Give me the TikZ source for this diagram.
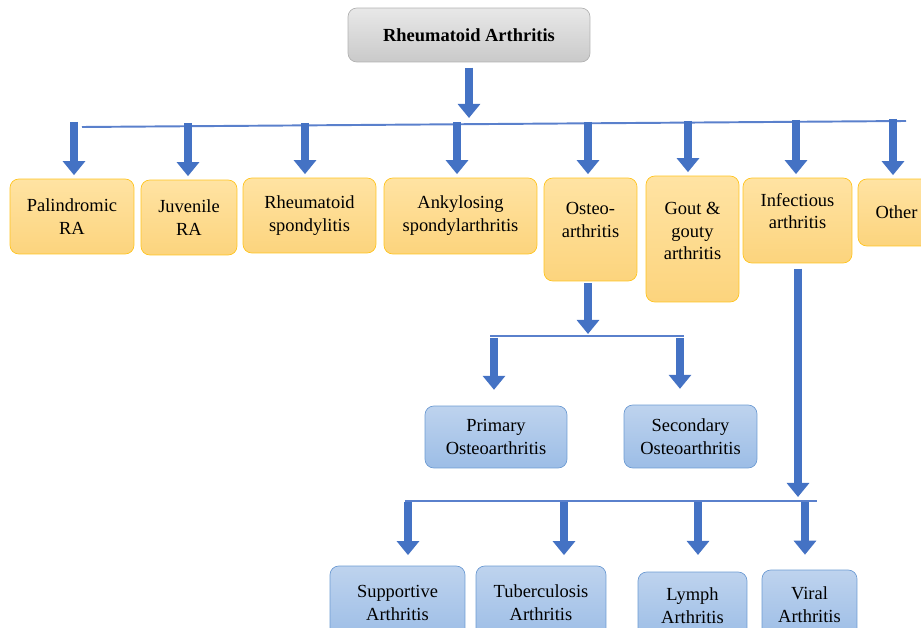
\documentclass[tikz,border=0pt]{standalone}
\usepackage{fontspec}
\setmainfont{Liberation Serif}
\usetikzlibrary{positioning, arrows.meta}

\definecolor{arrowblue}{HTML}{4472C4}
\definecolor{barblue}{HTML}{5A80CC}

\begin{document}
\begin{tikzpicture}[x=0.02cm, y=-0.02cm,
    % Root box style - gray shaded
    rootbox/.style={
        rectangle,
        rounded corners=5pt,
        draw=gray!60,
        top color=gray!18,
        bottom color=gray!42,
        font=\fontsize{10.5}{13}\selectfont\bfseries,
        align=center
    },
    % Main type box style - orange
    typebox/.style={
        rectangle,
        rounded corners=5pt,
        draw={rgb,255:red,255;green,196;blue,30},
        top color={rgb,255:red,255;green,227;blue,163},
        bottom color={rgb,255:red,252;green,212;blue,125},
        font=\fontsize{10.5}{13}\selectfont,
        align=center
    },
    % Sub type box style - blue
    subbox/.style={
        rectangle,
        rounded corners=5pt,
        draw={rgb,255:red,109;green,155;blue,211},
        top color={rgb,255:red,190;green,211;blue,238},
        bottom color={rgb,255:red,156;green,189;blue,230},
        font=\fontsize{10.5}{13}\selectfont,
        align=center
    },
    % Block arrow style
    blockarrow/.style={
        -{Triangle[width=12.5pt, length=8pt]},
        line width=4.5pt,
        draw=arrowblue
    },
    % Bar line style
    bar/.style={
        draw=barblue,
        line width=1.1pt
    }
]

\clip (0,0) rectangle (921,628);

% === Root ===
\node[rootbox, minimum width=4.84cm, minimum height=1.08cm] (root) at (469,35) {Rheumatoid Arthritis};

% === Main types ===
\node[typebox, minimum width=2.48cm, minimum height=1.5cm] (pal) at (72,216.5) {Palindromic\\RA};
\node[typebox, minimum width=1.92cm, minimum height=1.5cm] (juv) at (189,217.5) {Juvenile\\RA};
\node[typebox, minimum width=2.66cm, minimum height=1.5cm] (rsp) at (309.5,215.5) {Rheumatoid\\spondylitis};
\node[typebox, minimum width=3.06cm, minimum height=1.52cm] (ank) at (460.5,216) {Ankylosing\\spondylarthritis};
\node[typebox, minimum width=1.86cm, minimum height=2.06cm, text depth=11.4pt] (ost) at (590.5,229.5) {Osteo-\\arthritis};
\node[typebox, minimum width=1.86cm, minimum height=2.52cm, text depth=9.1pt] (gou) at (692.5,239) {Gout \&\\gouty\\arthritis};
\node[typebox, minimum width=2.18cm, minimum height=1.7cm, text depth=10.8pt] (inf) at (797.5,220.5) {Infectious\\arthritis};
\node[typebox, minimum width=1.54cm, minimum height=1.34cm] (oth) at (896.5,212.5) {Other};

% === Osteoarthritis subtypes ===
\node[subbox, minimum width=2.84cm, minimum height=1.24cm] (pri) at (496,437) {Primary\\Osteoarthritis};
\node[subbox, minimum width=2.66cm, minimum height=1.26cm] (sec) at (690.5,436.5) {Secondary\\Osteoarthritis};

% === Infectious subtypes ===
\node[subbox, minimum width=2.7cm, minimum height=1.48cm] (sup) at (397.5,603) {Supportive\\Arthritis};
\node[subbox, minimum width=2.6cm, minimum height=1.48cm] (tub) at (541,603) {Tuberculosis\\Arthritis};
\node[subbox, minimum width=2.18cm, minimum height=1.36cm] (lym) at (692.5,606) {Lymph\\Arthritis};
\node[subbox, minimum width=1.9cm, minimum height=1.4cm] (vir) at (809.5,605) {Viral\\Arthritis};

% === Top bar ===
\coordinate (barL) at (82,127);
\coordinate (barR) at (906,121);
\coordinate (rootdrop) at (465,118);
\draw[bar] (barL) -- (barR);
\draw[blockarrow, shorten <=3pt] (root.south) -- (root.south |- rootdrop);

\coordinate (t1) at (74,122);
\coordinate (t2) at (188,123);
\coordinate (t3) at (305,123);
\coordinate (t4) at (457,122);
\coordinate (t5) at (588,122);
\coordinate (t6) at (688,121);
\coordinate (t7) at (796,120);
\coordinate (t8) at (893,119);
\draw[blockarrow, shorten >=2pt] (t1) -- (t1 |- pal.north);
\draw[blockarrow, shorten >=2pt] (t2) -- (t2 |- juv.north);
\draw[blockarrow, shorten >=2pt] (t3) -- (t3 |- rsp.north);
\draw[blockarrow, shorten >=2pt] (t4) -- (t4 |- ank.north);
\draw[blockarrow, shorten >=2pt] (t5) -- (t5 |- ost.north);
\draw[blockarrow, shorten >=2pt] (t6) -- (t6 |- gou.north);
\draw[blockarrow, shorten >=2pt] (t7) -- (t7 |- inf.north);
\draw[blockarrow, shorten >=2pt] (t8) -- (t8 |- oth.north);

% === Osteoarthritis branch ===
\coordinate (oL) at (490,336);
\coordinate (oR) at (684,336);
\coordinate (odrop) at (588,334);
\draw[bar] (oL) -- (oR);
\draw[blockarrow, shorten <=1pt] (ost.south -| odrop) -- (odrop);
\coordinate (o1) at (494,338);
\coordinate (o2) at (680,338);
\draw[blockarrow, shorten >=9pt] (o1) -- (o1 |- pri.north);
\draw[blockarrow, shorten >=9pt] (o2) -- (o2 |- sec.north);

% === Infectious branch ===
\coordinate (iL) at (405,501);
\coordinate (iR) at (817,501);
\coordinate (idrop) at (798,497);
\draw[bar] (iL) -- (iR);
\draw[blockarrow, shorten <=3pt] (inf.south -| idrop) -- (idrop);
\coordinate (i1) at (408,502);
\coordinate (i2) at (564,502);
\coordinate (i3) at (698,502);
\coordinate (i4) at (805,502);
\draw[blockarrow, shorten >=6pt] (i1) -- (i1 |- sup.north);
\draw[blockarrow, shorten >=6pt] (i2) -- (i2 |- tub.north);
\draw[blockarrow, shorten >=9.5pt] (i3) -- (i3 |- lym.north);
\draw[blockarrow, shorten >=8.5pt] (i4) -- (i4 |- vir.north);

\end{tikzpicture}
\end{document}
